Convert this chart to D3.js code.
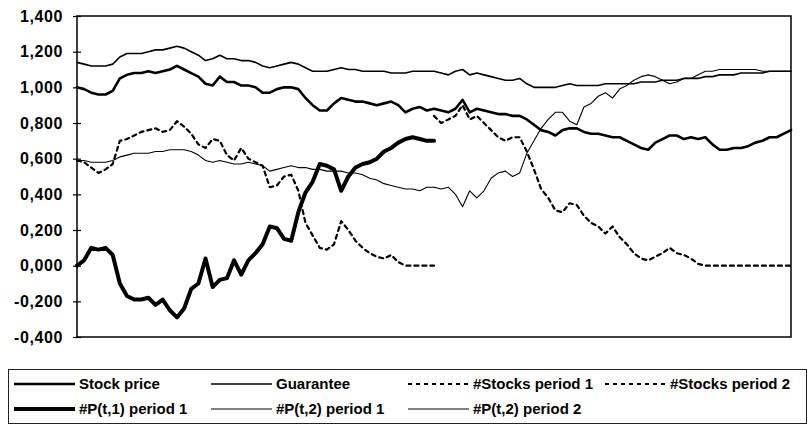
<!DOCTYPE html>
<html>
<head>
<meta charset="utf-8">
<script src="https://cdn.jsdelivr.net/npm/d3@7"></script>
<style>
	html, body { margin: 0; padding: 0; background: #fff; }
	svg { display: block; }
	.tick text { font-family: 'Liberation Sans', Arial, sans-serif; font-weight: bold; font-size: 16px; letter-spacing: 0.6px; fill: #000; }
	.legend text { font-family: 'Liberation Sans', Arial, sans-serif; font-weight: bold; font-size: 15px; fill: #000; }
	.line { fill: none; stroke: #000; stroke-linejoin: round; stroke-linecap: round; }
</style>
</head>
<body>
<svg id="chart" width="809" height="434"></svg>
<script>
// time steps 0..100, period 1 runs 0..50, period 2 runs 50..100
const STEPS = d3.range(0, 101);
const PERIOD_1 = STEPS.filter(d => d <= 50);
const PERIOD_2 = STEPS.filter(d => d >= 50);

const stockPrice = [
	1.00, 0.99, 0.97, 0.96, 0.96, 0.98, 1.05, 1.07, 1.08, 1.08,
	1.09, 1.08, 1.09, 1.10, 1.12, 1.10, 1.08, 1.06, 1.02, 1.01,
	1.06, 1.03, 1.03, 1.01, 1.01, 1.00, 0.97, 0.97, 0.99, 1.00,
	1.00, 0.99, 0.94, 0.90, 0.87, 0.87, 0.91, 0.94, 0.93, 0.92,
	0.92, 0.91, 0.90, 0.91, 0.92, 0.90, 0.86, 0.88, 0.89, 0.87,
	0.88, 0.87, 0.86, 0.88, 0.93, 0.86, 0.88, 0.87, 0.86, 0.85,
	0.85, 0.84, 0.84, 0.82, 0.79, 0.76, 0.75, 0.73, 0.76, 0.77,
	0.77, 0.75, 0.74, 0.74, 0.73, 0.72, 0.72, 0.70, 0.68, 0.66,
	0.65, 0.69, 0.71, 0.73, 0.73, 0.71, 0.72, 0.71, 0.72, 0.68,
	0.65, 0.65, 0.66, 0.66, 0.67, 0.69, 0.70, 0.72, 0.72, 0.74,
	0.76
];

const guarantee = [
	1.14, 1.13, 1.12, 1.12, 1.12, 1.13, 1.17, 1.19, 1.19, 1.19,
	1.20, 1.21, 1.21, 1.22, 1.23, 1.22, 1.20, 1.18, 1.15, 1.16,
	1.18, 1.16, 1.16, 1.15, 1.15, 1.14, 1.12, 1.11, 1.12, 1.13,
	1.14, 1.13, 1.11, 1.09, 1.09, 1.09, 1.10, 1.11, 1.10, 1.10,
	1.09, 1.09, 1.09, 1.09, 1.08, 1.08, 1.08, 1.09, 1.09, 1.09,
	1.09, 1.08, 1.07, 1.09, 1.10, 1.07, 1.08, 1.07, 1.06, 1.05,
	1.04, 1.04, 1.05, 1.02, 1.00, 1.00, 1.00, 1.00, 1.01, 1.02,
	1.01, 1.01, 1.01, 1.01, 1.02, 1.02, 1.02, 1.02, 1.02, 1.03,
	1.03, 1.03, 1.04, 1.04, 1.04, 1.05, 1.05, 1.05, 1.06, 1.06,
	1.07, 1.07, 1.07, 1.08, 1.08, 1.08, 1.08, 1.09, 1.09, 1.09,
	1.09
];

const stocksPeriod1 = [
	0.59, 0.58, 0.55, 0.52, 0.54, 0.57, 0.70, 0.71, 0.73, 0.75,
	0.76, 0.77, 0.75, 0.76, 0.81, 0.78, 0.74, 0.68, 0.66, 0.71,
	0.70, 0.62, 0.59, 0.66, 0.60, 0.58, 0.56, 0.44, 0.45, 0.50,
	0.51, 0.42, 0.24, 0.17, 0.10, 0.09, 0.12, 0.25, 0.20, 0.14,
	0.10, 0.07, 0.05, 0.04, 0.06, 0.02, 0.00, 0.00, 0.00, 0.00,
	0.00
];

const stocksPeriod2 = [
	0.84, 0.80, 0.82, 0.84, 0.90, 0.82, 0.84, 0.80, 0.76, 0.72,
	0.70, 0.72, 0.72, 0.64, 0.54, 0.43, 0.38, 0.31, 0.30, 0.35,
	0.34, 0.28, 0.24, 0.22, 0.18, 0.22, 0.16, 0.12, 0.07, 0.04,
	0.03, 0.05, 0.07, 0.10, 0.07, 0.06, 0.04, 0.01, 0.00, 0.00,
	0.00, 0.00, 0.00, 0.00, 0.00, 0.00, 0.00, 0.00, 0.00, 0.00,
	0.00
];

const pt1Period1 = [
	0.00, 0.03, 0.10, 0.09, 0.10, 0.06, -0.10, -0.17, -0.19, -0.19,
	-0.18, -0.22, -0.19, -0.25, -0.29, -0.24, -0.13, -0.10, 0.04, -0.12,
	-0.08, -0.07, 0.03, -0.05, 0.03, 0.07, 0.12, 0.22, 0.21, 0.15,
	0.14, 0.30, 0.41, 0.47, 0.57, 0.56, 0.54, 0.42, 0.50, 0.55,
	0.57, 0.58, 0.60, 0.64, 0.66, 0.69, 0.71, 0.72, 0.71, 0.70,
	0.70
];

const pt2Period1 = [
	0.59, 0.59, 0.58, 0.58, 0.58, 0.59, 0.61, 0.62, 0.63, 0.63,
	0.63, 0.64, 0.64, 0.65, 0.65, 0.65, 0.64, 0.62, 0.59, 0.58,
	0.59, 0.58, 0.57, 0.57, 0.58, 0.57, 0.56, 0.53, 0.54, 0.55,
	0.56, 0.55, 0.55, 0.54, 0.54, 0.53, 0.53, 0.53, 0.52, 0.52,
	0.51, 0.49, 0.48, 0.46, 0.45, 0.44, 0.43, 0.43, 0.42, 0.44,
	0.44
];

const pt2Period2 = [
	0.44, 0.43, 0.44, 0.40, 0.33, 0.42, 0.38, 0.42, 0.49, 0.52,
	0.53, 0.50, 0.52, 0.63, 0.70, 0.77, 0.82, 0.86, 0.86, 0.81,
	0.79, 0.89, 0.91, 0.95, 0.97, 0.94, 0.99, 1.01, 1.04, 1.06,
	1.07, 1.06, 1.04, 1.02, 1.03, 1.05, 1.05, 1.07, 1.09, 1.09,
	1.10, 1.10, 1.10, 1.10, 1.10, 1.10, 1.09, 1.09, 1.09, 1.09,
	1.09
];

const Y_TICKS = [-0.4, -0.2, 0, 0.2, 0.4, 0.6, 0.8, 1.0, 1.2, 1.4];

const LEGEND_ROW_1 = ['Stock price', 'Guarantee', '#Stocks period 1', '#Stocks period 2'];
const LEGEND_ROW_2 = ['#P(t,1) period 1', '#P(t,2) period 1', '#P(t,2) period 2'];

const STYLE = {
	stock: { width: 2.6, dash: null },
	guarantee: { width: 1.6, dash: null },
	stocks: { width: 2.2, dash: '4,4' },
	pt1: { width: 4, dash: null },
	pt2: { width: 1.1, dash: null }
};

const margin = { top: 16, right: 18, bottom: 97, left: 77 };
const width = 809 - margin.left - margin.right;
const height = 434 - margin.top - margin.bottom;

const scale = {
	x: d3.scaleLinear().domain([0, 100]).range([0, width]),
	y: d3.scaleLinear().domain([-0.4, 1.4]).range([height, 0])
};

const locale = d3.formatLocale({
	decimal: ',',
	thousands: '.',
	grouping: [3],
	currency: ['', ''],
	minus: '-'
});
const fmt = locale.format('.3f');

const $svg = d3.select('#chart');
const $vis = $svg.append('g').attr('transform', `translate(${margin.left},${margin.top})`);

function series(steps, values, style) {
	return { data: steps.map((t, i) => ({ t, v: values[i] })), style };
}

const SERIES = [
	series(STEPS, guarantee, STYLE.guarantee),
	series(PERIOD_1, pt2Period1, STYLE.pt2),
	series(PERIOD_2, pt2Period2, STYLE.pt2),
	series(PERIOD_1, stocksPeriod1, STYLE.stocks),
	series(PERIOD_2, stocksPeriod2, STYLE.stocks),
	series(STEPS, stockPrice, STYLE.stock),
	series(PERIOD_1, pt1Period1, STYLE.pt1)
];

function renderFrame() {
	$vis.append('path')
		.attr('d', `M0,${height}V0H${width}V${height}H0`)
		.attr('fill', 'none')
		.attr('stroke', '#000')
		.attr('stroke-width', 1.5);
}

function renderAxis() {
	const axisY = d3.axisLeft(scale.y)
		.tickValues(Y_TICKS)
		.tickFormat(fmt)
		.tickSize(4)
		.tickPadding(10);
	const $axis = $vis.append('g').attr('class', 'axis--y').call(axisY);
	$axis.select('.domain').remove();
	$axis.selectAll('.tick line').attr('x1', 4).attr('x2', -4).attr('stroke-width', 1.2);
}

function renderLines() {
	const line = d3.line()
		.x(d => scale.x(d.t))
		.y(d => scale.y(d.v));

	$vis.selectAll('path.line')
		.data(SERIES)
		.enter()
		.append('path')
		.attr('class', 'line')
		.attr('d', d => line(d.data))
		.attr('stroke-width', d => d.style.width)
		.attr('stroke-dasharray', d => d.style.dash)
		.attr('stroke-linecap', d => (d.style.dash ? 'butt' : 'round'));
}

function renderLegend() {
	const $legend = $svg.append('g').attr('class', 'legend');
	$legend.append('rect')
		.attr('x', 8.5)
		.attr('y', 369.5)
		.attr('width', 798)
		.attr('height', 54)
		.attr('fill', 'none')
		.attr('stroke', '#222')
		.attr('stroke-width', 1);

	const colX = [14, 211, 408, 605];
	const rows = [
		{ y: 384, labels: LEGEND_ROW_1, styles: [STYLE.stock, STYLE.guarantee, STYLE.stocks, STYLE.stocks] },
		{ y: 409, labels: LEGEND_ROW_2, styles: [STYLE.pt1, STYLE.pt2, STYLE.pt2] }
	];

	rows.forEach(row => {
		const $item = $legend.selectAll(null)
			.data(row.labels)
			.enter()
			.append('g')
			.attr('transform', (d, i) => `translate(${colX[i]},${row.y})`);

		$item.append('line')
			.attr('x1', 0)
			.attr('x2', 61)
			.attr('stroke', '#000')
			.attr('stroke-width', (d, i) => row.styles[i].width)
			.attr('stroke-dasharray', (d, i) => row.styles[i].dash);

		$item.append('text')
			.attr('x', 65)
			.attr('dy', '0.36em')
			.text(d => d);
	});
}

function init() {
	renderFrame();
	renderLines();
	renderAxis();
	renderLegend();
}

init();
</script>
</body>
</html>
